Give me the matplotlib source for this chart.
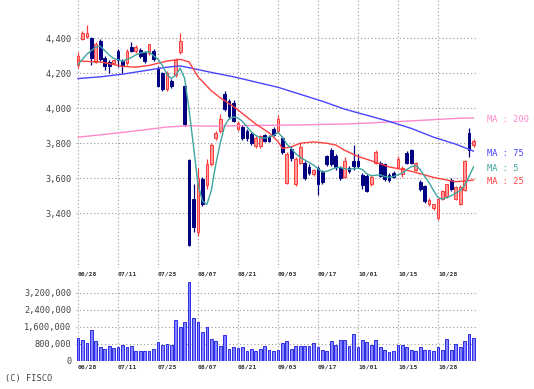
import numpy as np
import matplotlib.pyplot as plt

# date labels every 9 trading days
tick_idx = [0, 9, 18, 27, 36, 45, 54, 63, 72, 81]
tick_lbl = ['06/28', '07/11', '07/25', '08/07', '08/21', '09/03', '09/17', '10/01', '10/15', '10/28']

open_ = [4250, 4395, 4405, 4400, 4265, 4385, 4290, 4265, 4260, 4330,
         4270, 4260, 4350, 4325, 4335, 4320, 4315, 4325, 4225, 4200,
         4110, 4155, 4190, 4320, 4130, 3705, 3480, 3290, 3595, 3560,
         3680, 3830, 3870, 4080, 4040, 4030, 3880, 3895, 3870, 3855,
         3785, 3785, 3845, 3835, 3880, 3870, 3830, 3575, 3770, 3570,
         3690, 3690, 3665, 3625, 3660, 3640, 3725, 3760, 3730, 3660,
         3610, 3660, 3700, 3700, 3620, 3615, 3565, 3690, 3690, 3680,
         3620, 3630, 3665, 3625, 3745, 3760, 3650, 3580, 3555, 3450,
         3430, 3370, 3480, 3500, 3590, 3480, 3450, 3535, 3860, 3790]
high = [4320, 4440, 4475, 4405, 4380, 4395, 4300, 4275, 4280, 4340,
        4280, 4340, 4380, 4360, 4345, 4330, 4370, 4340, 4240, 4210,
        4215, 4165, 4285, 4430, 4140, 3710, 3570, 3660, 3610, 3710,
        3800, 3870, 3970, 4100, 4055, 4045, 3925, 3905, 3880, 3865,
        3840, 3850, 3855, 3850, 3895, 3960, 3840, 3750, 3785, 3720,
        3800, 3700, 3680, 3655, 3670, 3650, 3735, 3775, 3740, 3670,
        3720, 3670, 3790, 3740, 3630, 3625, 3620, 3760, 3700, 3690,
        3630, 3640, 3725, 3670, 3755, 3770, 3695, 3590, 3560, 3485,
        3455, 3490, 3535, 3570, 3600, 3555, 3560, 3705, 3885, 3825]
low = [4230, 4390, 4400, 4250, 4260, 4265, 4220, 4200, 4255, 4235,
       4200, 4250, 4320, 4315, 4290, 4260, 4305, 4270, 4120, 4100,
       4100, 4115, 4180, 4310, 3900, 3215, 3290, 3270, 3440, 3540,
       3670, 3820, 3860, 3985, 3940, 3920, 3870, 3820, 3815, 3790,
       3775, 3775, 3810, 3805, 3840, 3860, 3740, 3570, 3700, 3555,
       3680, 3590, 3620, 3615, 3505, 3570, 3670, 3670, 3650, 3590,
       3600, 3630, 3650, 3660, 3540, 3520, 3555, 3680, 3605, 3585,
       3580, 3600, 3655, 3610, 3680, 3680, 3640, 3530, 3460, 3440,
       3420, 3360, 3475, 3490, 3530, 3475, 3445, 3530, 3720, 3780]
close = [4300, 4430, 4430, 4290, 4370, 4280, 4240, 4240, 4275, 4275,
         4240, 4330, 4330, 4350, 4300, 4270, 4365, 4280, 4130, 4110,
         4200, 4130, 4275, 4385, 3910, 3220, 3320, 3600, 3455, 3680,
         3790, 3860, 3940, 3995, 3955, 3930, 3915, 3830, 3830, 3800,
         3830, 3840, 3815, 3815, 3850, 3940, 3750, 3740, 3715, 3710,
         3780, 3600, 3630, 3645, 3570, 3580, 3680, 3680, 3665, 3600,
         3700, 3640, 3670, 3670, 3560, 3530, 3610, 3750, 3615, 3595,
         3590, 3610, 3710, 3660, 3690, 3690, 3685, 3540, 3470, 3475,
         3450, 3480, 3525, 3565, 3540, 3550, 3550, 3700, 3760, 3815]
volume = [1060000, 980000, 830000, 1450000, 940000, 640000, 560000, 700000, 590000, 670000,
          730000, 670000, 700000, 480000, 480000, 450000, 480000, 560000, 900000, 750000,
          800000, 750000, 1920000, 1600000, 1840000, 3710000, 2000000, 1840000, 1370000, 1580000,
          1030000, 940000, 700000, 1220000, 560000, 640000, 610000, 640000, 480000, 550000,
          470000, 550000, 700000, 520000, 480000, 520000, 830000, 950000, 560000, 720000,
          720000, 720000, 720000, 830000, 670000, 520000, 480000, 950000, 770000, 980000,
          980000, 720000, 1260000, 670000, 980000, 910000, 750000, 980000, 640000, 520000,
          440000, 480000, 750000, 750000, 640000, 520000, 480000, 670000, 520000, 520000,
          470000, 640000, 520000, 1030000, 520000, 800000, 640000, 950000, 1260000, 1060000]

ma5 = [4250, 4280, 4310, 4330, 4350, 4355, 4330, 4305, 4285, 4278,
       4268, 4280, 4290, 4305, 4315, 4320, 4323, 4300, 4280, 4245,
       4195, 4170, 4190, 4230, 4170, 3990, 3780, 3565, 3470, 3450,
       3530, 3680, 3800, 3900, 3940, 3950, 3945, 3925, 3895, 3865,
       3845, 3832, 3830, 3835, 3845, 3862, 3835, 3795, 3770, 3740,
       3720, 3705, 3690, 3675, 3655, 3635, 3640, 3650, 3660, 3662,
       3655, 3650, 3655, 3658, 3650, 3625, 3615, 3617, 3620, 3610,
       3605, 3610, 3620, 3630, 3650, 3665, 3675, 3650, 3610, 3575,
       3530, 3490, 3480, 3490, 3500, 3515, 3530, 3560, 3610, 3665]
ma25_idx = [0, 5, 10, 13, 16, 20, 23, 25, 27, 30, 32, 35, 37, 40, 43, 45, 46,
            48, 50, 53, 56, 58, 60, 63, 66, 70, 75, 80, 85, 89]
ma25 = [4270, 4265, 4240, 4235, 4245, 4270, 4280, 4265, 4180, 4100, 4060, 4010, 3970,
        3910, 3860, 3810, 3770, 3780, 3800, 3808, 3800, 3790, 3760, 3725, 3700, 3665,
        3640, 3605, 3580, 3590]
ma75_idx = [0, 5, 10, 15, 20, 23, 25, 30, 35, 40, 45, 50, 55, 60, 65, 70, 75, 80, 85, 89]
ma75 = [4170, 4180, 4195, 4215, 4235, 4242, 4232, 4205, 4180, 4150, 4120, 4080,
        4040, 3995, 3960, 3925, 3885, 3835, 3795, 3755]
ma200_idx = [0, 5, 10, 15, 20, 25, 30, 35, 40, 45, 50, 55, 60, 65, 70, 75, 80, 85, 89]
ma200 = [3835, 3848, 3862, 3877, 3893, 3900, 3898, 3900, 3902, 3903, 3905, 3908,
         3910, 3915, 3922, 3928, 3935, 3942, 3945]

W, H = 534, 389
fig = plt.figure(figsize=(W / 100, H / 100), dpi=100)
x0, x1 = 75.8, 477.5
ax = fig.add_axes([x0 / W, 1 - 268 / H, (x1 - x0) / W, 268 / H])
vax = fig.add_axes([x0 / W, 1 - 361 / H, (x1 - x0) / W, 81 / H])

mono = 'DejaVu Sans Mono'
grid_kw = dict(color='#999999', linestyle=(0, (1, 2.2)), linewidth=0.8)

x = np.arange(len(close))
o = np.array(open_)
c = np.array(close)
up = c >= o
wick_col = np.where(up, '#ff3b3b', '#000080')
face = np.where(up, '#ff9a9a', '#000080')
edge = np.where(up, '#ff3b3b', '#000080')
ax.vlines(x, low, high, colors=wick_col, linewidth=0.9, zorder=2)
body = np.maximum(np.abs(c - o), 6)
ax.bar(x, body, bottom=np.minimum(o, c), width=0.62, color=face,
       edgecolor=edge, linewidth=0.7, zorder=3)

ax.plot(ma200_idx, ma200, color='#ff88cc', lw=1.0, zorder=4)
ax.plot(ma75_idx, ma75, color='#4646ff', lw=1.0, zorder=4)
ax.plot(ma25_idx, ma25, color='#ff4040', lw=1.0, zorder=4)
ax.plot(x, ma5, color='#3fa5a0', lw=1.0, zorder=5)

ax.set_xlim(-0.5, 89.9)
ax.set_ylim(3087, 4619)
ax.set_yticks([3400, 3600, 3800, 4000, 4200, 4400])
ax.set_yticklabels([f'{v:,}' for v in [3400, 3600, 3800, 4000, 4200, 4400]])

vax.bar(x, volume, width=0.62, color='#8585ff', edgecolor='#2b2be6', linewidth=0.7, zorder=3)
vax.set_xlim(-0.5, 89.9)
vax.set_ylim(0, 3.8e6)
vt = [0, 800000, 1600000, 2400000, 3200000]
vax.set_yticks(vt)
vax.set_yticklabels([f'{v:,}' for v in vt])

for a in (ax, vax):
    for s in a.spines.values():
        s.set_visible(False)
    a.set_xticks(tick_idx)
    a.set_xticklabels(tick_lbl, ha='left', fontsize=4.6, fontweight='bold',
                      family=mono, color='#333333')
    a.tick_params(length=0, pad=2.5)
    a.tick_params(axis='y', labelsize=6.2, labelcolor='#444444', pad=3)
    for t in a.get_yticklabels():
        t.set_family(mono)
    a.grid(True, **grid_kw)
    a.set_axisbelow(True)

# hide horizontal grid at zero in volume panel
vax.get_ygridlines()[0].set_visible(False)

labels = [('MA : 200', '#ff88cc', 120), ('MA : 75', '#4646ff', 154),
          ('MA : 5', '#3fa5a0', 168), ('MA : 25', '#ff4040', 181)]
for txt, col, yp in labels:
    fig.text(487 / W, 1 - yp / H, txt, color=col, fontsize=6.2, family=mono, va='center')

fig.text(5 / W, 1 - 378 / H, '(C) FISCO', fontsize=6.2, family=mono, color='#444444', va='center')

fig.savefig('out.png', dpi=100, facecolor='white')
